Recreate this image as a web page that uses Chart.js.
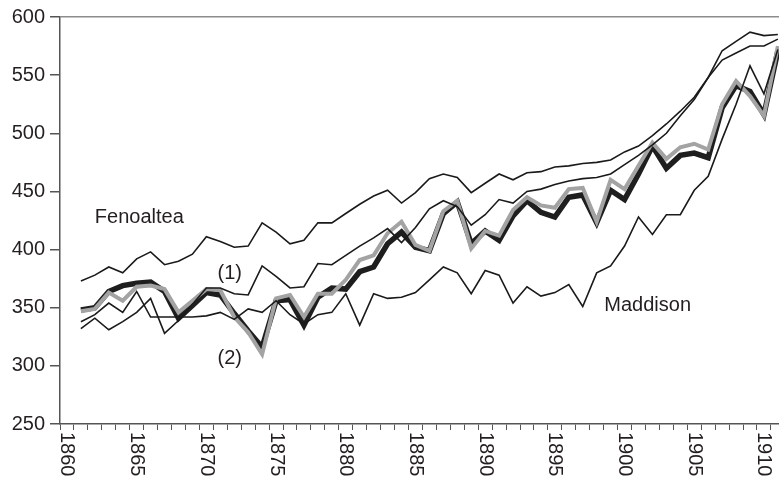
<!DOCTYPE html>
<html>
<head>
<meta charset="utf-8">
<script src="https://cdn.jsdelivr.net/npm/chart.js@4.4.1/dist/chart.umd.min.js"></script>
<style>
html, body { margin: 0; padding: 0; background: #fff; }
#chart { display: block; }
</style>
</head>
<body>
<canvas id="chart" width="779" height="485"></canvas>
<script>
const years = [1861, 1862, 1863, 1864, 1865, 1866, 1867, 1868, 1869, 1870,
    1871, 1872, 1873, 1874, 1875, 1876, 1877, 1878, 1879, 1880,
    1881, 1882, 1883, 1884, 1885, 1886, 1887, 1888, 1889, 1890,
    1891, 1892, 1893, 1894, 1895, 1896, 1897, 1898, 1899, 1900,
    1901, 1902, 1903, 1904, 1905, 1906, 1907, 1908, 1909, 1910, 1911];

const fenoaltea = [373, 378, 385, 380, 392, 398, 387, 390, 396, 411,
    407, 402, 403, 423, 415, 405, 408, 423, 423, 431,
    439, 446, 451, 440, 449, 461, 465, 462, 449, 457,
    465, 460, 466, 467, 471, 472, 474, 475, 477, 484,
    489, 498, 508, 519, 531, 548, 571, 579, 587, 584, 585];

const series1 = [332, 341, 331, 338, 346, 358, 328, 339, 353, 367,
    367, 362, 361, 386, 377, 367, 368, 388, 387, 395,
    403, 410, 418, 406, 419, 435, 442, 437, 421, 430,
    443, 440, 450, 452, 456, 459, 461, 462, 465, 473,
    481, 490, 500, 515, 529, 548, 563, 569, 575, 575, 581];

const maddison = [338, 344, 354, 346, 364, 342, 342, 342, 342, 343,
    346, 340, 349, 346, 356, 344, 336, 344, 346, 362,
    335, 362, 358, 359, 363, 374, 385, 380, 362, 382,
    378, 354, 368, 360, 363, 370, 351, 380, 386, 403,
    428, 413, 430, 430, 451, 463, 495, 525, 558, 534, 572];

const seriesBlack = [348, 350, 364, 369, 371, 372, 364, 341, 352, 363,
    361, 345, 330, 316, 356, 357, 335, 359, 367, 366,
    381, 385, 405, 415, 402, 399, 431, 441, 405, 416,
    408, 429, 442, 432, 428, 445, 447, 423, 451, 443,
    465, 489, 470, 481, 483, 479, 522, 541, 536, 516, 571];

const seriesGrey = [347, 349, 363, 356, 368, 369, 366, 346, 356, 366,
    365, 342, 329, 310, 358, 361, 342, 362, 362, 374,
    391, 395, 414, 424, 404, 399, 433, 442, 401, 416,
    412, 434, 445, 438, 436, 452, 453, 424, 460, 452,
    472, 492, 478, 488, 491, 486, 525, 545, 532, 515, 575];

const xTickLabels = ['1860', '1865', '1870', '1875', '1880', '1885',
    '1890', '1895', '1900', '1905', '1910'];

const annotations = [
    { text: 'Fenoaltea', x: 1862.0, y: 427.5 },
    { text: '(1)', x: 1870.8, y: 379.5 },
    { text: '(2)', x: 1870.8, y: 306.5 },
    { text: 'Maddison', x: 1898.55, y: 352 }
];

const FONT = '20px "Liberation Sans", Arial, sans-serif';
const TEXT_COLOR = '#231f20';

function points(values) {
    return years.map((yr, i) => ({ x: yr, y: values[i] }));
}

function thinLine(values) {
    return {
        data: points(values),
        borderColor: '#1a1a1a',
        borderWidth: 1.6,
        pointRadius: 0,
        tension: 0,
        order: 0
    };
}

// draws the rotated year labels and the series names
const labelPlugin = {
    id: 'labelPlugin',
    afterDraw(chart) {
        const ctx = chart.ctx;
        const xs = chart.scales.x;
        const ys = chart.scales.y;
        ctx.save();
        ctx.fillStyle = TEXT_COLOR;
        ctx.font = FONT;
        ctx.textBaseline = 'middle';
        ctx.textAlign = 'left';
        xTickLabels.forEach(lbl => {
            const px = xs.getPixelForValue(Number(lbl));
            ctx.save();
            ctx.translate(px, xs.top + 8);
            ctx.rotate(Math.PI / 2);
            ctx.fillText(lbl, 0, 0);
            ctx.restore();
        });
        annotations.forEach(a => {
            ctx.fillText(a.text, xs.getPixelForValue(a.x), ys.getPixelForValue(a.y));
        });
        ctx.restore();
    }
};

const ctx = document.getElementById('chart').getContext('2d');
new Chart(ctx, {
    type: 'line',
    data: {
        datasets: [
            thinLine(fenoaltea),
            thinLine(series1),
            thinLine(maddison),
            {
                data: points(seriesGrey),
                borderColor: '#a3a3a3',
                borderWidth: 4,
                pointRadius: 0,
                tension: 0,
                order: 1
            },
            {
                data: points(seriesBlack),
                borderColor: '#1e1e1e',
                borderWidth: 5.5,
                pointRadius: 0,
                tension: 0,
                order: 2
            }
        ]
    },
    options: {
        responsive: false,
        animation: false,
        layout: { padding: { top: 16, right: 0, left: 0, bottom: 0 } },
        plugins: {
            legend: { display: false },
            tooltip: { enabled: false }
        },
        scales: {
            x: {
                type: 'linear',
                min: 1859.5,
                max: 1911.08,
                afterFit(scale) { scale.height = 61; },
                afterBuildTicks(scale) {
                    const ticks = [];
                    for (let v = 1859.5; v <= 1911.08; v += 1) ticks.push({ value: v });
                    scale.ticks = ticks;
                },
                ticks: { display: false },
                grid: {
                    drawOnChartArea: false,
                    drawTicks: true,
                    tickLength: 6,
                    tickColor: '#555',
                    tickWidth: 1
                },
                border: { display: true, color: '#555', width: 1.5 }
            },
            y: {
                min: 250,
                max: 600,
                afterFit(scale) { scale.width = 60; },
                ticks: {
                    stepSize: 50,
                    color: TEXT_COLOR,
                    padding: 5,
                    font: { family: '"Liberation Sans", Arial, sans-serif', size: 20 }
                },
                grid: {
                    drawOnChartArea: true,
                    drawTicks: true,
                    tickLength: 10,
                    tickColor: '#555',
                    color: ctx => (ctx.tick && ctx.tick.value === 600 ? '#8c8c8c' : 'rgba(0,0,0,0)'),
                    lineWidth: 1.5
                },
                border: { display: true, color: '#555', width: 1.5 }
            }
        }
    },
    plugins: [labelPlugin]
});
</script>
</body>
</html>
